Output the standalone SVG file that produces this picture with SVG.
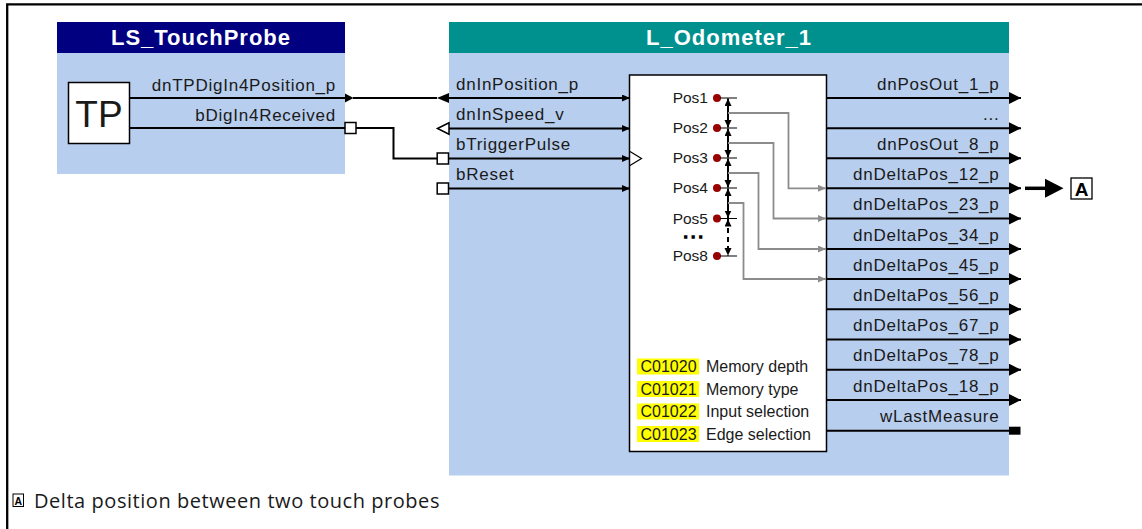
<svg xmlns="http://www.w3.org/2000/svg" width="1142" height="529" viewBox="0 0 1142 529">
<style>
.body{fill:#B8CEEE}
.hdrtxt{font-family:"Liberation Sans",Arial,sans-serif;font-weight:bold;font-size:22px;letter-spacing:1px;fill:#fff;text-anchor:middle}
.lbl{font-family:"Liberation Sans",Arial,sans-serif;font-size:17px;letter-spacing:0.75px;fill:#1a1a1a}
.r{text-anchor:end}
.pos{font-family:"Liberation Sans",Arial,sans-serif;font-size:15.5px;fill:#1a1a1a;text-anchor:end}
.code{font-family:"Liberation Sans",Arial,sans-serif;font-size:16px;fill:#1a1a1a}
.ln{stroke:#000;stroke-width:2;fill:none}
.gl{stroke:#8c8c8c;stroke-width:1.8;fill:none}
.sq{fill:#fff;stroke:#000;stroke-width:1.5}
.dot{fill:#990000}
.yel{fill:#FFFF00}
</style>
<defs>
<marker id="ah" markerUnits="userSpaceOnUse" markerWidth="9" markerHeight="8" refX="8" refY="3.5" orient="auto"><path d="M0,0 L8,3.5 L0,7 z" fill="#000"/></marker>
<marker id="ahg" markerUnits="userSpaceOnUse" markerWidth="9" markerHeight="8" refX="8" refY="3.5" orient="auto"><path d="M0,0 L8,3.5 L0,7 z" fill="#8c8c8c"/></marker>
<marker id="ahb" markerUnits="userSpaceOnUse" markerWidth="13" markerHeight="13" refX="12" refY="6" orient="auto"><path d="M0,0 L12,6 L0,12 z" fill="#000"/></marker>
<marker id="va" markerUnits="userSpaceOnUse" markerWidth="8" markerHeight="8" refX="7.5" refY="3.5" orient="auto-start-reverse"><path d="M0,0 L7.5,3.5 L0,7 z" fill="#000"/></marker>
</defs>
<rect width="1142" height="529" fill="#fff"/>
<path d="M7.2 529 V4.3 H1142" stroke="#000" stroke-width="2.3" fill="none"/>

<g id="LS_TouchProbe">
<rect x="57" y="22" width="288" height="31" fill="#000080"/>
<rect class="body" x="57" y="53" width="288" height="121"/>
<text class="hdrtxt" x="201" y="45">LS_TouchProbe</text>
<rect x="68.5" y="82.5" width="61" height="61" fill="#fff" stroke="#000" stroke-width="1.5"/>
<text x="99" y="126.5" font-family="Liberation Sans, Arial, sans-serif" font-size="37" text-anchor="middle" fill="#1a1a1a">TP</text>
<text class="lbl r" x="336" y="90.5">dnTPDigIn4Position_p</text>
<text class="lbl r" x="336" y="120.5">bDigIn4Received</text>
<path class="ln" d="M129.5 98 H345"/>
<polygon points="345,93.5 353.5,98 345,102.5" fill="#000"/>
<path class="ln" d="M129.5 128 H345"/>
<rect class="sq" x="345" y="122.5" width="11" height="11"/>
</g>

<g id="L_Odometer_1">
<rect x="449" y="22" width="560" height="31" fill="#00918F"/>
<rect class="body" x="449" y="53" width="560" height="422.5"/>
<text class="hdrtxt" x="729" y="45">L_Odometer_1</text>
<rect x="629.5" y="75" width="197" height="376.5" fill="#fff" stroke="#000" stroke-width="1.5"/>
<text class="lbl" x="456" y="89.5">dnInPosition_p</text>
<text class="lbl" x="456" y="119.5">dnInSpeed_v</text>
<text class="lbl" x="456" y="149.5">bTriggerPulse</text>
<text class="lbl" x="456" y="179.5">bReset</text>
<polygon points="437,98 449,93 449,103" fill="#000"/>
<polygon points="437.5,128.5 449,122.8 449,134.2" fill="#fff" stroke="#000" stroke-width="1.5"/>
<rect class="sq" x="437.2" y="153" width="11.3" height="11"/>
<rect class="sq" x="437.2" y="183" width="11.3" height="11"/>
<path class="ln" d="M449 98 H630" marker-end="url(#ah)"/>
<path class="ln" d="M449 128.5 H630" marker-end="url(#ah)"/>
<path class="ln" d="M448.5 158.5 H630" marker-end="url(#ah)"/>
<path class="ln" d="M448.5 188.5 H630" marker-end="url(#ah)"/>
<polyline points="630,151.5 641.5,158.5 630,165.5" fill="none" stroke="#000" stroke-width="1.2"/>

<text class="pos" x="708" y="103">Pos1</text>
<text class="pos" x="708" y="133">Pos2</text>
<text class="pos" x="708" y="163">Pos3</text>
<text class="pos" x="708" y="193">Pos4</text>
<text class="pos" x="708" y="223.5">Pos5</text>
<text class="pos" x="708" y="261">Pos8</text>
<text x="684" y="238" font-family="Liberation Sans, Arial, sans-serif" font-size="12" font-weight="bold" letter-spacing="4.2" stroke="#000" stroke-width="1.6" fill="#000">...</text>
<circle class="dot" cx="717" cy="98" r="4"/>
<circle class="dot" cx="717" cy="128" r="4"/>
<circle class="dot" cx="717" cy="158" r="4"/>
<circle class="dot" cx="717" cy="188" r="4"/>
<circle class="dot" cx="717" cy="218.5" r="4"/>
<circle class="dot" cx="717" cy="256" r="4"/>
<path d="M720 98 H737 M720 128 H737 M720 158 H737 M720 188 H737 M720 218.5 H737 M720 256 H737" stroke="#000" stroke-width="1.2" fill="none"/>
<path d="M728 98.5 V127.5" stroke="#000" stroke-width="2" marker-start="url(#va)" marker-end="url(#va)"/>
<path d="M728 128.5 V157.5" stroke="#000" stroke-width="2" marker-start="url(#va)" marker-end="url(#va)"/>
<path d="M728 158.5 V187.5" stroke="#000" stroke-width="2" marker-start="url(#va)" marker-end="url(#va)"/>
<path d="M728 188.5 V218" stroke="#000" stroke-width="2" marker-start="url(#va)" marker-end="url(#va)"/>
<path d="M728 219 V255.5" stroke="#000" stroke-width="2" stroke-dasharray="5,4" marker-start="url(#va)" marker-end="url(#va)"/>
<path class="gl" d="M728 113 H788.5 V188.3 H826" marker-end="url(#ahg)"/>
<path class="gl" d="M728 143 H773.5 V218.5 H826" marker-end="url(#ahg)"/>
<path class="gl" d="M728 173 H758.5 V249 H826" marker-end="url(#ahg)"/>
<path class="gl" d="M728 203 H743.5 V279 H826" marker-end="url(#ahg)"/>

<rect class="yel" x="637" y="358.5" width="62" height="16"/>
<rect class="yel" x="637" y="381" width="62" height="16"/>
<rect class="yel" x="637" y="403.5" width="62" height="16"/>
<rect class="yel" x="637" y="426" width="62" height="16"/>
<text class="code" x="640.5" y="372.3">C01020</text>
<text class="code" x="640.5" y="395">C01021</text>
<text class="code" x="640.5" y="417.3">C01022</text>
<text class="code" x="640.5" y="439.8">C01023</text>
<text class="code" x="706" y="372.3">Memory depth</text>
<text class="code" x="706" y="395">Memory type</text>
<text class="code" x="706" y="417.3">Input selection</text>
<text class="code" x="706" y="439.8">Edge selection</text>

<text class="lbl r" x="999.5" y="89.5">dnPosOut_1_p</text>
<text class="lbl r" x="999.5" y="120">...</text>
<text class="lbl r" x="999.5" y="149.5">dnPosOut_8_p</text>
<text class="lbl r" x="999.5" y="179.5">dnDeltaPos_12_p</text>
<text class="lbl r" x="999.5" y="210">dnDeltaPos_23_p</text>
<text class="lbl r" x="999.5" y="240.5">dnDeltaPos_34_p</text>
<text class="lbl r" x="999.5" y="270.5">dnDeltaPos_45_p</text>
<text class="lbl r" x="999.5" y="300.5">dnDeltaPos_56_p</text>
<text class="lbl r" x="999.5" y="331">dnDeltaPos_67_p</text>
<text class="lbl r" x="999.5" y="361">dnDeltaPos_78_p</text>
<text class="lbl r" x="999.5" y="391.5">dnDeltaPos_18_p</text>
<text class="lbl r" x="999.5" y="422">wLastMeasure</text>
<path class="ln" d="M826 98 H1021" marker-end="url(#ahb)"/>
<path class="ln" d="M826 128.3 H1021" marker-end="url(#ahb)"/>
<path class="ln" d="M826 158.3 H1021" marker-end="url(#ahb)"/>
<path class="ln" d="M826 188.3 H1021" marker-end="url(#ahb)"/>
<path class="ln" d="M826 218.5 H1021" marker-end="url(#ahb)"/>
<path class="ln" d="M826 249 H1021" marker-end="url(#ahb)"/>
<path class="ln" d="M826 279 H1021" marker-end="url(#ahb)"/>
<path class="ln" d="M826 309.3 H1021" marker-end="url(#ahb)"/>
<path class="ln" d="M826 339.5 H1021" marker-end="url(#ahb)"/>
<path class="ln" d="M826 369.7 H1021" marker-end="url(#ahb)"/>
<path class="ln" d="M826 400 H1021" marker-end="url(#ahb)"/>
<path class="ln" d="M826 430.7 H1009"/>
<rect x="1009" y="426.7" width="11.5" height="8" fill="#000"/>
</g>

<g id="connectors">
<path class="ln" d="M353 98 H437"/>
<path class="ln" d="M356 128 H393.5 V158.5 H437.2"/>
<path d="M1025 188.3 H1047" stroke="#000" stroke-width="3.5"/>
<polygon points="1045,178.8 1063.5,188.3 1045,197.8" fill="#000"/>
</g>

<g id="note_A">
<rect x="1071" y="178" width="21" height="21" fill="#fff" stroke="#000" stroke-width="1.3"/>
<text x="1081.5" y="195.5" font-family="Liberation Sans, Arial, sans-serif" font-size="19" font-weight="bold" text-anchor="middle" fill="#000">A</text>
</g>

<g id="legend">
<rect x="13" y="494" width="10.5" height="12.5" fill="#fff" stroke="#000" stroke-width="1"/>
<text x="18.25" y="504.6" font-family="Liberation Sans, Arial, sans-serif" font-size="10.5" font-weight="bold" text-anchor="middle" fill="#000">A</text>
<text x="34" y="508" font-family="'Open Sans', 'Noto Sans', sans-serif" font-size="20" letter-spacing="0.55" fill="#1a1a1a">Delta position between two touch probes</text>
</g>
</svg>
